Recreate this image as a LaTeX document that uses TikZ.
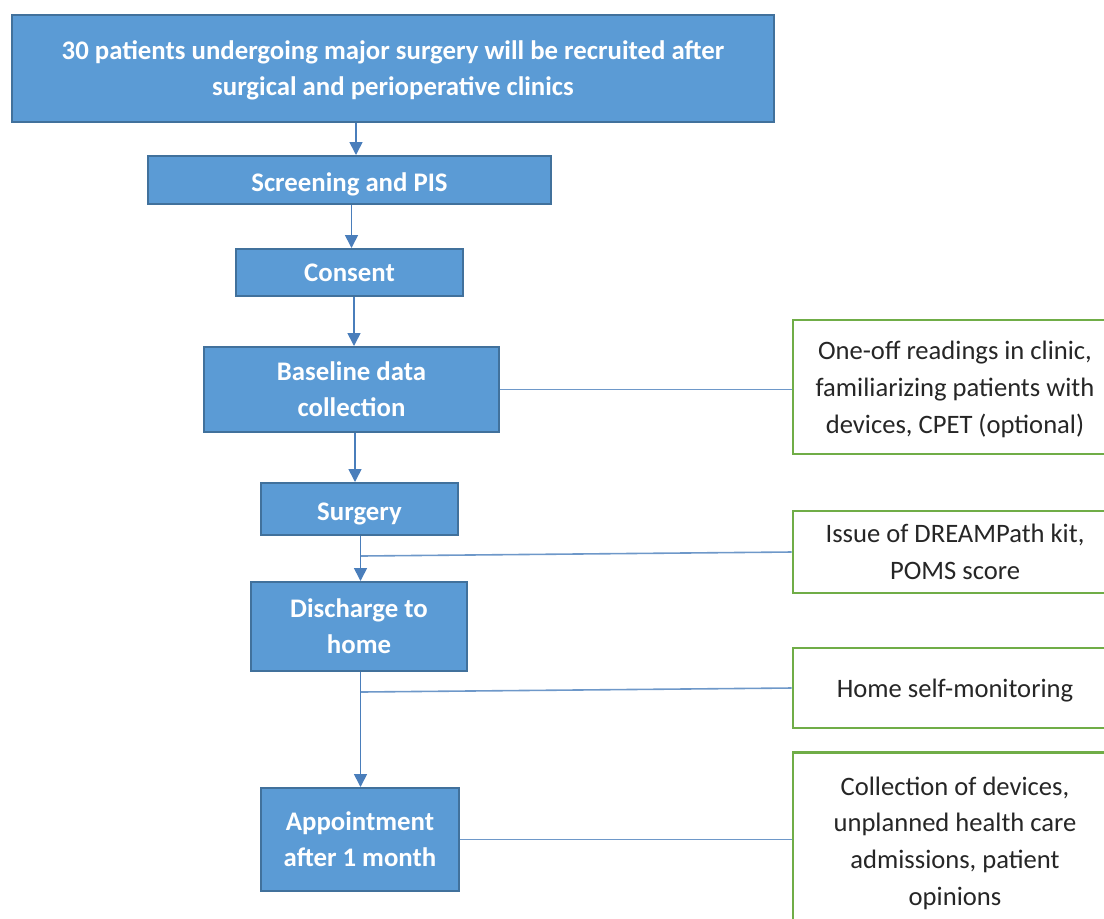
\documentclass[tikz,border=0pt]{standalone}
\usepackage{fontspec}
\setmainfont{Carlito}
\usetikzlibrary{arrows.meta}
\definecolor{boxfill}{HTML}{5B9BD5}
\definecolor{boxline}{HTML}{41719C}
\definecolor{grn}{HTML}{70AD47}
\definecolor{conn}{HTML}{4A7EBB}
\begin{document}
\begin{tikzpicture}[x=0.5pt,y=-0.5pt,
  bluebox/.style={draw=boxline, line width=1pt, fill=boxfill, text=white,
    font=\fontsize{13.4}{18}\selectfont\bfseries, align=center, inner sep=0pt},
  greenbox/.style={draw=grn, line width=1.3pt, fill=white, text=black!85,
    font=\fontsize{13.3}{18.4}\selectfont, align=center, inner sep=0pt,
    minimum width=162pt},
  lowtext/.style={text height=11pt, text depth=0pt},
  arr/.style={draw=conn, line width=0.8pt, -{Triangle[width=6.5pt,length=6.5pt]}},
  ln/.style={draw=conn!80, line width=0.8pt}]
\useasboundingbox (0,0) rectangle (1104,918);

\node[bluebox, minimum width=381pt, minimum height=53.5pt, text depth=0pt] (top) at (393,68.5)
  {30 patients undergoing major surgery will be recruited after\\surgical and perioperative clinics};
\node[bluebox, lowtext, minimum width=201.5pt, minimum height=24pt] (scr) at (349.5,180) {Screening and PIS};
\node[bluebox, minimum width=113.5pt, minimum height=23.5pt] (con) at (349.5,272.5) {Consent};
\node[bluebox, minimum width=147.5pt, minimum height=42.5pt] (base) at (351.5,389.5) {Baseline data\\collection};
\node[bluebox, lowtext, minimum width=98.5pt, minimum height=26pt] (surg) at (359.5,509) {Surgery};
\node[bluebox, minimum width=108pt, minimum height=44.5pt] (dis) at (359,626.5) {Discharge to\\home};
\node[bluebox, minimum width=99pt, minimum height=51.5pt] (app) at (360,839.5) {Appointment\\after 1 month};

\node[greenbox, minimum height=67pt, text depth=0pt] (g1) at (955,387) {One-off readings in clinic,\\familiarizing patients with\\devices, CPET (optional)};
\node[greenbox, minimum height=41pt] (g2) at (955,552) {Issue of DREAMPath kit,\\POMS score};
\node[greenbox, minimum height=40pt, text depth=0pt] (g3) at (955,688) {Home self-monitoring};
\node[greenbox, minimum height=88.5pt, text depth=0pt] (g4) at (955,841) {Collection of devices,\\unplanned health care\\admissions, patient\\opinions};

\draw[arr] (top.south -| 356,0) -- (scr.north -| 356,0);
\draw[arr] (scr.south -| 351.5,0) -- (con.north -| 351.5,0);
\draw[arr] (con.south -| 354,0) -- (base.north -| 354,0);
\draw[arr] (base.south -| 355,0) -- (surg.north -| 355,0);
\draw[arr] (surg.south -| 360.5,0) -- (dis.north -| 360.5,0);
\draw[arr] (dis.south -| 360.5,0) -- (app.north -| 360.5,0);

\coordinate (j1) at (361,556);
\coordinate (j2) at (361,692);
\draw[ln] (base.east) -- (g1.west |- base.east);
\draw[ln] (j1) -- (g2.west);
\draw[ln] (j2) -- (g3.west);
\draw[ln] (app.east) -- (g4.west |- app.east);
\end{tikzpicture}
\end{document}
